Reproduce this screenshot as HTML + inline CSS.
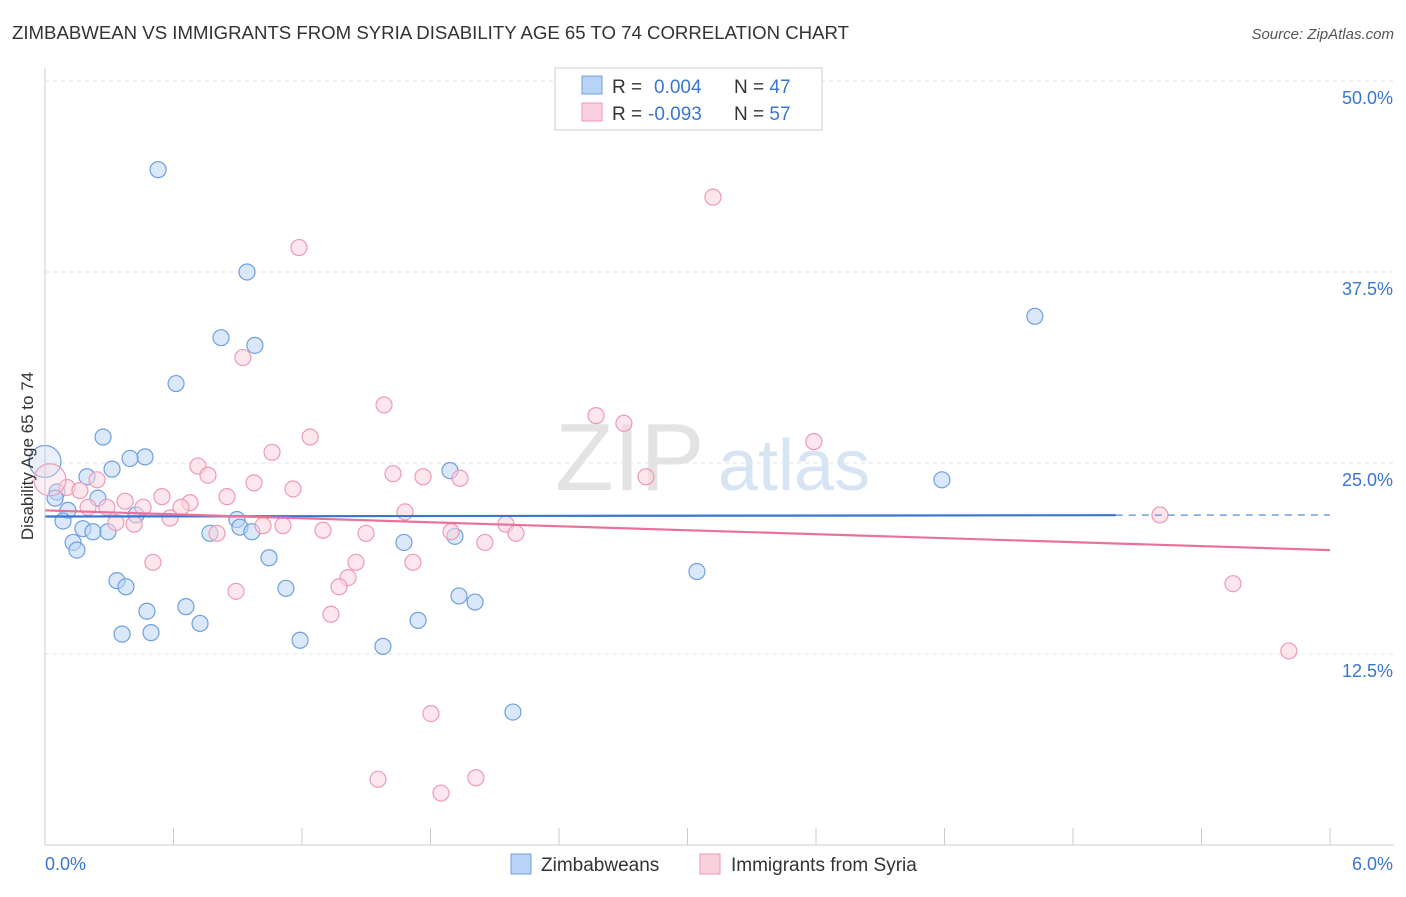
<!DOCTYPE html>
<html><head><meta charset="utf-8"><style>
body{margin:0;background:#fff;font-family:"Liberation Sans",sans-serif}
svg text{font-family:"Liberation Sans",sans-serif}
</style></head><body>
<svg id="chart" width="1406" height="892" xmlns="http://www.w3.org/2000/svg">
<text x="12" y="39" font-size="18" fill="#333" textLength="837" lengthAdjust="spacingAndGlyphs">ZIMBABWEAN VS IMMIGRANTS FROM SYRIA DISABILITY AGE 65 TO 74 CORRELATION CHART</text>
<text x="1394" y="39" font-size="15" fill="#555" text-anchor="end" font-style="italic">Source: ZipAtlas.com</text>
<g id="grid"></g>
<g><text x="555" y="490" font-size="96" fill="#e3e3e3" font-family="Liberation Serif,serif">ZIP</text><text x="718" y="490" font-size="72" fill="#d6e4f4">atlas</text></g>
<g id="points"></g>
<g id="trends"></g>
<line x1="45" y1="68" x2="45" y2="845" stroke="#ccc"/>
<line x1="45" y1="845" x2="1394" y2="845" stroke="#ccc"/>
<g id="axes"></g>
<text transform="translate(33,456) rotate(-90)" font-size="17" fill="#333" text-anchor="middle">Disability Age 65 to 74</text>
<g>
<rect x="555" y="68" width="267" height="62" fill="#fff" stroke="#ccc"/>
<rect x="582" y="76" width="20" height="18" fill="#b8d3f5" stroke="#6fa0e0"/>
<rect x="582" y="103" width="20" height="18" fill="#fbd0dd" stroke="#ee9ab5"/>
<text x="612" y="93" font-size="19" fill="#333">R = <tspan x="654" fill="#3a76d0">0.004</tspan><tspan x="734">N = </tspan><tspan fill="#3a76d0">47</tspan></text>
<text x="612" y="120" font-size="19" fill="#333">R = <tspan x="648" fill="#3a76d0">-0.093</tspan><tspan x="734">N = </tspan><tspan fill="#3a76d0">57</tspan></text>
</g>
<g>
<rect x="511" y="854" width="20" height="20" fill="#b8d3f5" stroke="#6fa0e0"/>
<text x="541" y="871" font-size="19" fill="#333">Zimbabweans</text>
<rect x="700" y="854" width="20" height="20" fill="#fbd0dd" stroke="#ee9ab5"/>
<text x="731" y="871" font-size="19" fill="#333">Immigrants from Syria</text>
</g>
</svg>
<script>
const yTicks=[12.5,25,37.5,50];
const yTickLabels=["12.5%","25.0%","37.5%","50.0%"];
const xTickLabels=["0.0%","6.0%"];
const blueX=[0.528,0.943,0.822,0.980,0.612,0.271,0.467,0.397,0.313,0.196,0,0.056,0.047,0.247,0.107,0.425,0.084,0.177,0.224,0.294,0.896,0.910,0.770,0.966,0.131,0.149,1.046,0.336,0.378,1.125,0.658,0.476,0.724,0.360,0.495,1.191,1.578,1.676,1.914,1.891,1.933,2.008,1.742,2.185,3.044,4.188,4.622];
const blueY=[44.2,37.5,33.2,32.7,30.2,26.7,25.4,25.3,24.6,24.1,25.1,23.1,22.7,22.7,21.9,21.6,21.2,20.7,20.5,20.5,21.3,20.8,20.4,20.5,19.8,19.3,18.8,17.3,16.9,16.8,15.6,15.3,14.5,13.8,13.9,13.4,13.0,19.8,20.2,24.5,16.3,15.9,14.7,8.7,17.9,23.9,34.6];
const pinkX=[3.119,1.186,0.924,1.583,2.573,2.703,3.590,1.238,1.060,0.714,0.761,1.625,1.765,1.938,2.806,0.976,1.158,0.243,0.103,0.163,0.023,0.850,0.546,0.374,0.677,0.635,0.458,0.289,0.201,0.584,0.416,0.331,1.018,1.111,1.681,1.298,1.499,0.803,1.896,2.152,2.199,2.054,0.504,1.452,1.718,1.415,1.373,0.892,1.335,5.206,5.547,5.808,1.802,1.555,1.849,2.012];
const pinkY=[42.4,39.1,31.9,28.8,28.1,27.6,26.4,26.7,25.7,24.8,24.2,24.3,24.1,24.0,24.1,23.7,23.3,23.9,23.4,23.2,23.9,22.8,22.8,22.5,22.4,22.1,22.1,22.1,22.1,21.4,21.0,21.1,20.9,20.9,21.8,20.6,20.4,20.4,20.5,21.0,20.4,19.8,18.5,18.5,18.5,17.5,16.9,16.6,15.1,21.6,17.1,12.7,8.6,4.3,3.4,4.4];
const blueTrend=[21.5,21.6];
const pinkTrend=[21.9,19.3];
const NS="http://www.w3.org/2000/svg";
const xs=v=>45+v/6*1285;
const ys=v=>845-v*15.28;
function mk(tag,attrs,parent){const e=document.createElementNS(NS,tag);for(const k in attrs)e.setAttribute(k,attrs[k]);parent.appendChild(e);return e;}
const grid=document.getElementById('grid'),axes=document.getElementById('axes'),pts=document.getElementById('points'),tr=document.getElementById('trends');
yTicks.forEach((t,i)=>{
 const l=mk('line',{x1:45,x2:1394,y1:ys(t),y2:ys(t),stroke:'#e2e2e2','stroke-dasharray':'4 4'},grid);
 
 
 const tx=mk('text',{x:1393,y:ys(t)+23,'font-size':18,fill:'#3a76d0','text-anchor':'end'},axes);
 tx.textContent=yTickLabels[i];
 
 
});
for(let i=0;i<=10;i++){
 const t=mk('line',{x1:xs(i*0.6),x2:xs(i*0.6),y1:i==0?845:828,y2:845,stroke:'#ccc'},axes);
 
 
}
[[0,'start',45],[6,'end',1393]].forEach((a,i)=>{
 const tx=mk('text',{x:a[2],y:870,'font-size':18,fill:'#3a76d0','text-anchor':a[1]},axes);
 tx.textContent=xTickLabels[i];
 
 
});
function dots(X,Y,fill,stroke,name){
 X.forEach((x,i)=>{
  const big=x<0.03;
  const c=mk('circle',{cx:xs(x),cy:ys(Y[i]),r:big?16:8,fill:fill,'fill-opacity':big?0.35:0.55,stroke:stroke,'stroke-width':1.2},pts);
  
  
 });
}
dots(blueX,blueY,'#bcd5f5','#6fa0e0','point-zimbabwean');
dots(pinkX,pinkY,'#fbd3df','#ee9ab5','point-syria');
const bl=mk('line',{x1:xs(0),y1:ys(blueTrend[0]),x2:xs(5),y2:ys(blueTrend[0]+(blueTrend[1]-blueTrend[0])*5/6),stroke:'#3a76d0','stroke-width':2.2},tr);


const bd=mk('line',{x1:xs(5),y1:ys(blueTrend[0]+(blueTrend[1]-blueTrend[0])*5/6),x2:xs(6),y2:ys(blueTrend[1]),stroke:'#3a76d0','stroke-width':1.5,'stroke-dasharray':'7 6','stroke-opacity':0.7},tr);


const pl=mk('line',{x1:xs(0),y1:ys(pinkTrend[0]),x2:xs(6),y2:ys(pinkTrend[1]),stroke:'#e8739a','stroke-width':2.2},tr);


</script>
</body></html>
